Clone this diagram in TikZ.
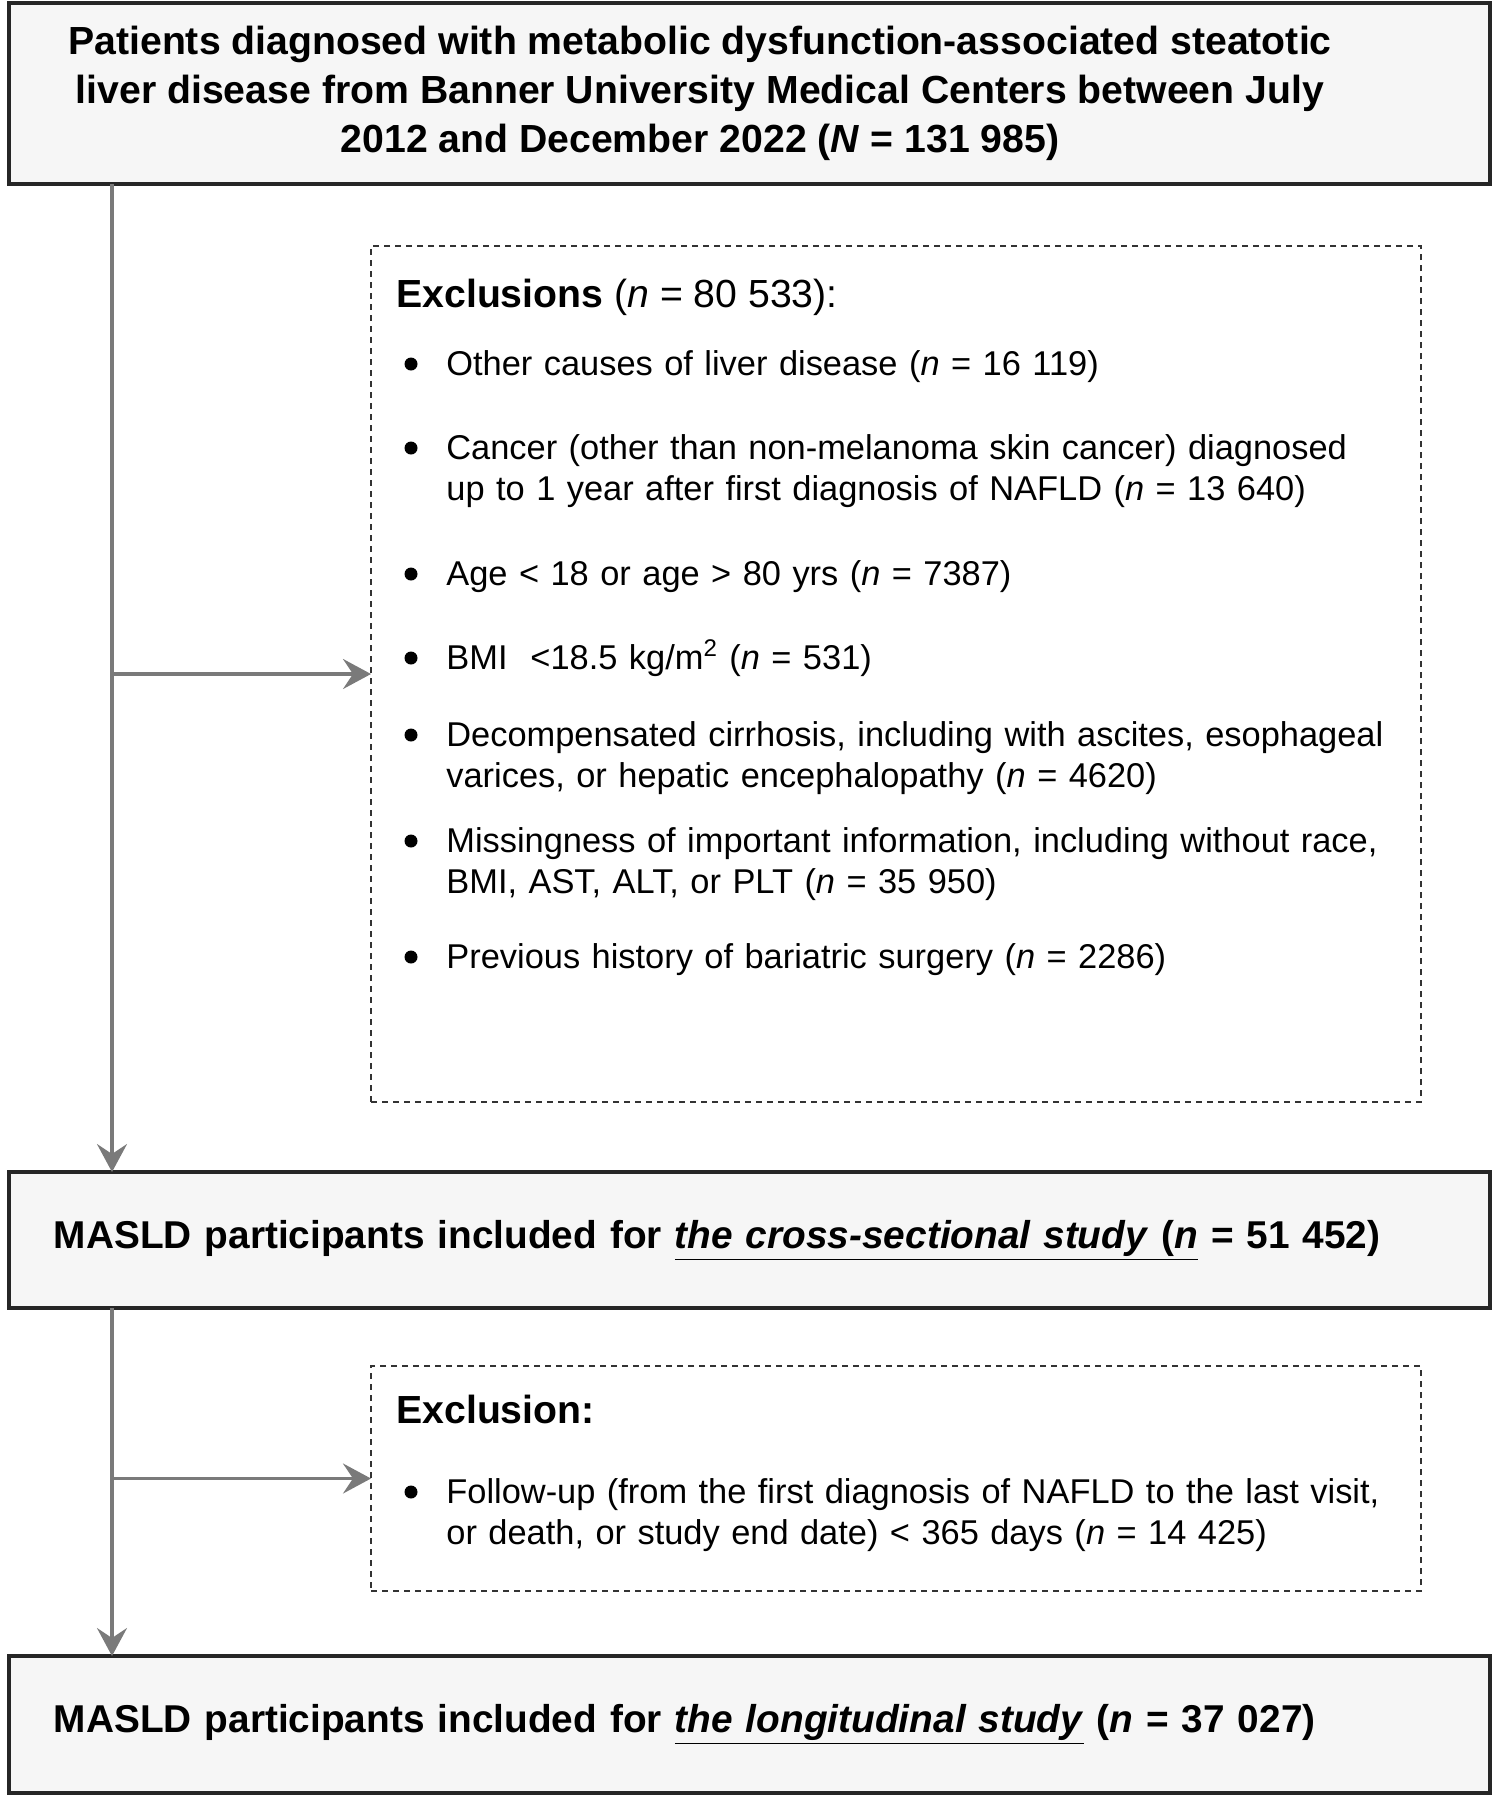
\documentclass[tikz,border=0pt]{standalone}
\usepackage{fontspec}
\setmainfont{Liberation Sans}
\usepackage{xcolor}
\usepackage{tikz}
\definecolor{flowgray}{HTML}{7A7A7A}
\definecolor{boxfill}{HTML}{F6F6F6}
\tikzset{
    box/.style={draw=black!85, line width=1.7pt, fill=boxfill,
               minimum width=740.5pt, anchor=north west, outer sep=0pt,
               inner xsep=22.5pt, text width=695.5pt, align=left,
               font=\fontsize{19.4}{23}\selectfont\bfseries},
  exbox/.style={draw=black!80, line width=0.8pt, dash pattern=on 3pt off 2.5pt,
                minimum width=525pt, anchor=north west, outer sep=0pt},
  head/.style={anchor=base west, inner sep=0pt,
               font=\fontsize{19.6}{23}\selectfont},
  item/.style={anchor=base west, inner sep=0pt, text width=480pt, align=left,
               font=\fontsize{17.2}{20.75}\selectfont},
  dot/.style={circle, fill=black, inner sep=0pt, minimum size=6.5pt},
  arrow/.style={-{Stealth[length=14pt, width=15pt, inset=5pt]},
                draw=flowgray, line width=1.7pt}
}
\usetikzlibrary{
  positioning, arrows.meta
}

\begin{document}
\begin{tikzpicture}[x=1pt, y=1pt]
    \useasboundingbox (0,0) rectangle (749.5,-900);
    \coordinate (trunk) at (56,0);

    \node[box, minimum height=90.5pt] (cohort) at (4.5,-1.5) {};
    \node[align=center, inner sep=0pt, font=\fontsize{19.6}{24.5}\selectfont\bfseries]
      (cohorttxt) at (350,-46.5) {Patients diagnosed with metabolic dysfunction-associated steatotic\\
      liver disease from Banner University Medical Centers between July\\
      2012 and December 2022 (\textit{N}~=~131~985)};

    \node[exbox, minimum height=428pt] (excl) at (185.5,-123) {};
    \node[head] (exclhead) at (198,-153.5) {\textbf{Exclusions} (\textit{n}~=~80~533):};
    \node[item] (i1) at (223,-187.5) {Other causes of liver disease (\textit{n}~=~16~119)};
    \node[item] (i2) at (223,-229.5) {Cancer (other than non-melanoma skin cancer) diagnosed\\
      up to 1 year after first diagnosis of NAFLD (\textit{n}~=~13~640)};
    \node[item] (i3) at (223,-292.5) {Age < 18 or age > 80 yrs (\textit{n}~=~7387)};
    \node[item] (i4) at (223,-334.5) {BMI~~<18.5 kg/m\textsuperscript{2} (\textit{n}~=~531)};
    \node[item] (i5) at (223,-373) {Decompensated cirrhosis, including with ascites, esophageal\\
      varices, or hepatic encephalopathy (\textit{n}~=~4620)};
    \node[item] (i6) at (223,-426) {Missingness of important information, including without race,\\
      BMI, AST, ALT, or PLT (\textit{n}~=~35~950)};
    \node[item] (i7) at (223,-484) {Previous history of bariatric surgery (\textit{n}~=~2286)};
    \foreach \i in {1,...,7}
      \node[dot] (d\i) at ([xshift=-17.5pt, yshift=5.5pt]i\i.base west) {};

    \node[box, minimum height=68pt] (cross) at (4.5,-586)
      {MASLD participants included for \underline{\textit{the cross-sectional study}~(\textit{n}}~=~51~452)};

    \node[exbox, minimum height=112.5pt] (fu) at (185.5,-683) {};
    \node[head] (fuhead) at (198,-711.5) {\textbf{Exclusion:}};
    \node[item] (j1) at (223,-751.5) {Follow-up (from the first diagnosis of NAFLD to the last visit,\\
      or death, or study end date) < 365 days (\textit{n}~=~14~425)};
    \node[dot] (e1) at ([xshift=-17.5pt, yshift=5.5pt]j1.base west) {};

    \node[box, minimum height=68.5pt] (longi) at (4.5,-828)
      {MASLD participants included for \underline{\textit{the longitudinal study}}~(\textit{n}~=~37~027)};

    \draw[arrow] (cohort.south -| trunk) -- (cross.north -| trunk);
    \draw[arrow] (excl.west -| trunk) -- (excl.west);
    \draw[arrow] (cross.south -| trunk) -- (longi.north -| trunk);
    \draw[arrow] (fu.west -| trunk) -- (fu.west);
\end{tikzpicture}
\end{document}
